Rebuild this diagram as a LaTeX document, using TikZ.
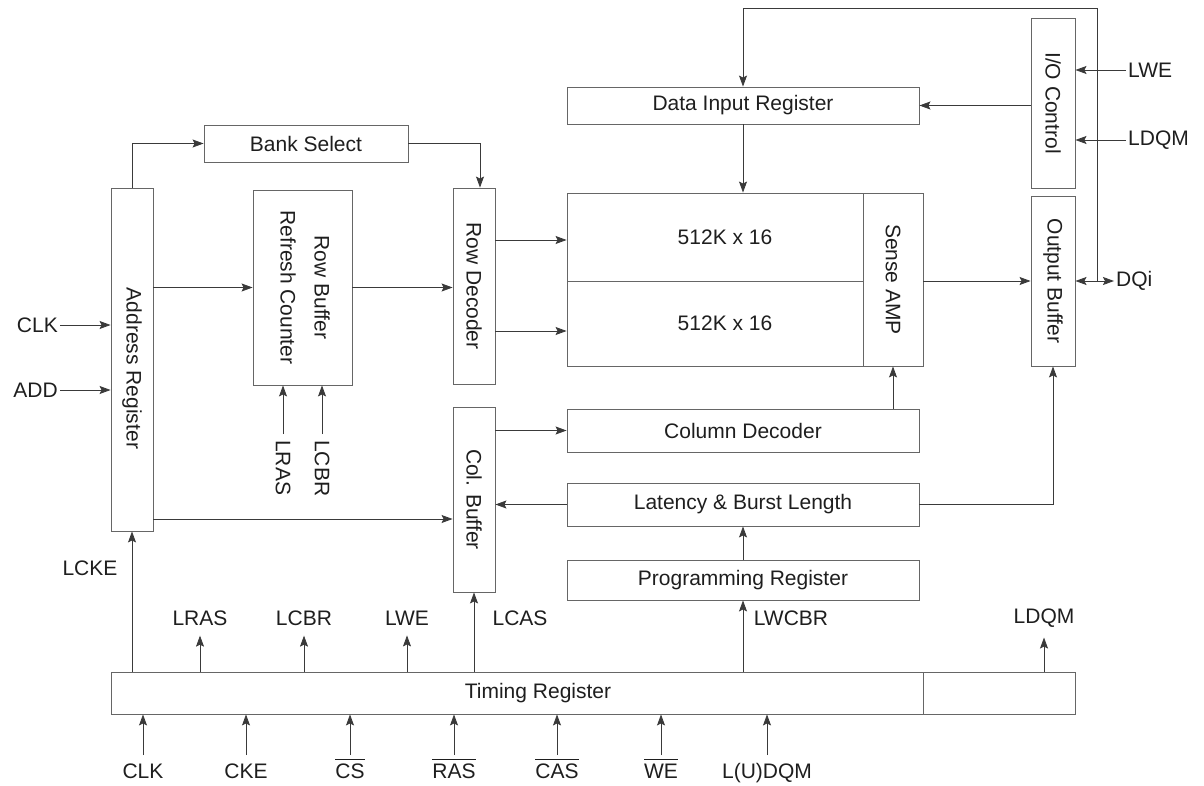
\documentclass[tikz,border=0pt]{standalone}
\usepackage{fontspec}
\setmainfont{Liberation Sans}
\usetikzlibrary{arrows.meta,calc}
\definecolor{boxc}{HTML}{666666}
\definecolor{linec}{HTML}{3A3A3A}
\definecolor{txtc}{HTML}{1E1E1E}
\newcommand{\rot}[1]{\rotatebox[origin=c]{-90}{#1}}
\newcommand{\ovl}[1]{$\overline{\hbox{\rule{0pt}{17.5pt}#1}}$}
\begin{document}
\begin{tikzpicture}[x=1pt,y=-1pt,
  every node/.style={font=\fontsize{21}{25}\selectfont, text=txtc},
  box/.style={draw=boxc, line width=0.9pt, inner sep=0pt, rectangle},
  lbl/.style={inner sep=2pt},
  tip/.tip={Stealth[length=11pt,width=8pt,inset=2pt]},
  arr/.style={draw=linec, line width=0.8pt, -tip},
  arrb/.style={draw=linec, line width=0.8pt, tip-tip},
  ln/.style={draw=linec, line width=0.8pt}]
\useasboundingbox (0,0) rectangle (1204,786);
% boxes
\node[box, minimum width=42pt, minimum height=343pt] (addr) at (132,359.5) {\rot{\hspace{18pt}Address Register}};
\node[box, minimum width=204pt, minimum height=37pt] (bank) at (306,143.5) {Bank Select};
\node[box, minimum width=99pt, minimum height=195pt] (rowbuf) at (302.5,287.5) {\rot{\begin{tabular}{@{}c@{}}Row Buffer\\[9pt]Refresh Counter\end{tabular}}};
\node[box, minimum width=42pt, minimum height=196pt] (rowdec) at (474,286) {\rot{Row Decoder}};
\node[box, minimum width=296pt, minimum height=88pt] (arr1) at (715,237) {\hspace{20pt}512K x 16};
\node[box, minimum width=296pt, minimum height=85pt] (arr2) at (715,323.5) {\hspace{20pt}512K x 16};
\node[box, minimum width=60pt, minimum height=173pt] (sense) at (893,279.5) {\rot{Sense AMP}};
\node[box, minimum width=352pt, minimum height=37pt] (dir) at (743,105.5) {Data Input Register};
\node[box, minimum width=44pt, minimum height=170pt] (ioc) at (1053,103) {\rot{I/O Control}};
\node[box, minimum width=44pt, minimum height=170pt] (outbuf) at (1053,281) {\rot{Output Buffer}};
\node[box, minimum width=352pt, minimum height=43pt] (coldec) at (743,430.5) {Column Decoder};
\node[box, minimum width=352pt, minimum height=43pt] (lat) at (743,504.5) {Latency \& Burst Length};
\node[box, minimum width=352pt, minimum height=40pt] (prog) at (743,580) {Programming Register};
\node[box, minimum width=42pt, minimum height=185pt] (colbuf) at (474,499.5) {\rot{Col. Buffer}};
\node[box, minimum width=812pt, minimum height=42pt] (timing) at (517,693) {\hspace{42pt}Timing Register};
\node[box, minimum width=152pt, minimum height=42pt] (timing2) at (999,693) {};

% left inputs
\node[lbl, anchor=east] (clk) at (60,325) {CLK};
\node[lbl, anchor=east] (add) at (60,390) {ADD};
\draw[arr] (clk.east) -- (addr.west |- clk.east);
\draw[arr] (add.east) -- (addr.west |- add.east);

% address register outputs
\draw[arr] (addr.north) |- (bank.west);
\draw[arr] (bank.east) -| ([xshift=6pt]rowdec.north);
\draw[arr] (addr.east |- rowbuf.west) -- (rowbuf.west);
\draw[arr] (rowbuf.east) -- (rowdec.west |- rowbuf.east);
\draw[arr] (addr.east |- 0,519) -- (colbuf.west |- 0,519);

% row buffer inputs
\node[lbl, anchor=north, inner sep=0pt] (rlras) at (283,440) {\rot{LRAS}};
\node[lbl, anchor=north, inner sep=0pt] (rlcbr) at (322,440) {\rot{LCBR}};
\draw[arr, shorten <=6pt] (rlras.north) -- (rowbuf.south -| rlras.north);
\draw[arr, shorten <=6pt] (rlcbr.north) -- (rowbuf.south -| rlcbr.north);

% row decoder to array
\draw[arr] (rowdec.east |- 0,240) -- (arr1.west |- 0,240);
\draw[arr] (rowdec.east |- 0,331) -- (arr2.west |- 0,331);

% data input register
\draw[arr] (dir.south) -- (arr1.north -| dir.south);
\draw[arr] (ioc.west |- dir.east) -- (dir.east);
\node[lbl, anchor=west] (lwe) at (1126,70) {LWE};
\node[lbl, anchor=west] (ldqm) at (1126,140) {LDQM};
\draw[arr] (lwe.west) -- (ioc.east |- lwe.west);
\draw[arr] (ldqm.west) -- (ioc.east |- ldqm.west);

% output
\draw[arr] (sense.east |- outbuf.west) -- (outbuf.west);
\node[lbl, anchor=west] (dqi) at (1114,281) {DQi};
\draw[arrb] (outbuf.east) -- (dqi.west);
\coordinate (tap) at (1097,281);
\draw[arr] (tap) -- (tap |- 0,8) -| (dir.north);

% column path
\draw[arr] (colbuf.east |- coldec.west) -- (coldec.west);
\draw[arr] (lat.west) -- (colbuf.east |- lat.west);
\draw[arr] (coldec.north -| sense.south) -- (sense.south);
\draw[arr] (lat.east) -| (outbuf.south);
\draw[arr] (prog.north) -- (lat.south);

% timing register outputs
\node[lbl] (lcke) at (90,568) {LCKE};
\draw[arr] (timing.north -| addr.south) -- (addr.south);
\node[lbl] (tlras) at (200,618) {LRAS};
\node[lbl] (tlcbr) at (304,618) {LCBR};
\node[lbl] (tlwe) at (407,618) {LWE};
\node[lbl] (tlcas) at (520,618) {LCAS};
\node[lbl] (tlwcbr) at (791,618) {LWCBR};
\node[lbl] (tldqm) at (1044,618) {LDQM};
\draw[arr, shorten >=8pt] (timing.north -| tlras.south) -- (tlras.south);
\draw[arr, shorten >=8pt] (timing.north -| tlcbr.south) -- (tlcbr.south);
\draw[arr, shorten >=8pt] (timing.north -| tlwe.south) -- (tlwe.south);
\draw[arr, shorten >=8pt] (timing2.north -| tldqm.south) -- (tldqm.south);
\draw[arr] (timing.north -| colbuf.south) -- (colbuf.south);
\draw[arr] (timing.north -| prog.south) -- (prog.south);

% timing register inputs
\node[lbl, anchor=base, inner sep=0pt] (bclk) at (143,778) {CLK};
\node[lbl, anchor=base, inner sep=0pt] (bcke) at (246,778) {CKE};
\node[lbl, anchor=base, inner sep=0pt] (bcs) at (350,778) {\ovl{CS}};
\node[lbl, anchor=base, inner sep=0pt] (bras) at (454,778) {\ovl{RAS}};
\node[lbl, anchor=base, inner sep=0pt] (bcas) at (557,778) {\ovl{CAS}};
\node[lbl, anchor=base, inner sep=0pt] (bwe) at (661,778) {\ovl{WE}};
\node[lbl, anchor=base, inner sep=0pt] (bdqm) at (767,778) {L(U)DQM};
\foreach \n in {bclk,bcke,bcs,bras,bcas,bwe,bdqm}
  \draw[arr] (\n.base |- 0,755) -- (timing.south -| \n.base);
\end{tikzpicture}
\end{document}
